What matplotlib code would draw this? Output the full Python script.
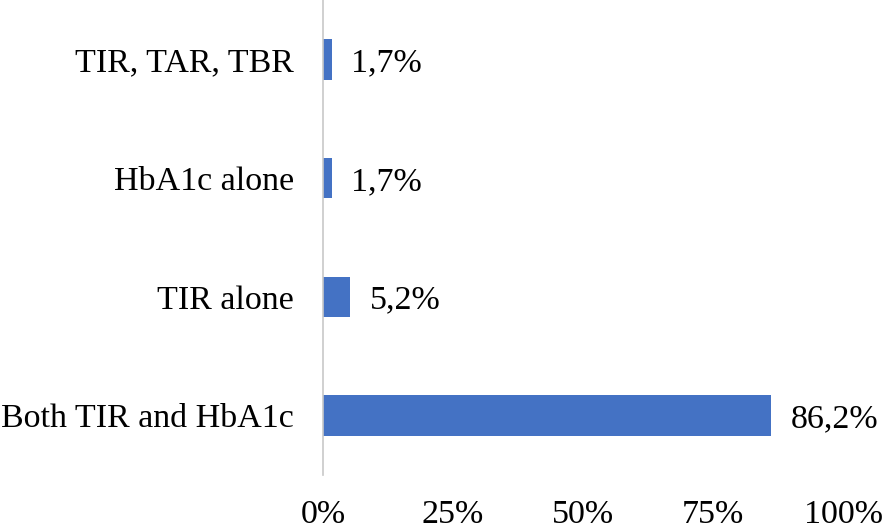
import matplotlib
matplotlib.use('Agg')
import matplotlib.pyplot as plt
from matplotlib.ticker import FuncFormatter

plt.rcParams['font.family'] = ['Liberation Serif', 'DejaVu Serif']

# data (bottom to top)
categories = ['Both TIR and HbA1c', 'TIR alone', 'HbA1c alone', 'TIR, TAR, TBR']
values = [86.2, 5.2, 1.7, 1.7]
value_labels = ['86,2%', '5,2%', '1,7%', '1,7%']
x_ticks = [0, 25, 50, 75, 100]

fs = 24.5

fig = plt.figure(figsize=(8.86, 5.31), dpi=100)
ax = fig.add_axes([0.3646, 0.1055, 0.9515 - 0.3646, 1.0 - 0.1055])

ax.barh(range(len(categories)), values, height=0.34, color='#4472C4')
for i, (v, lab) in enumerate(zip(values, value_labels)):
    ax.annotate(lab, (v, i), xytext=(14, 0), textcoords='offset points',
                va='center_baseline', ha='left', fontsize=fs)

ax.set_xlim(0, 100)
ax.set_ylim(-0.5, len(categories) - 0.5)
ax.set_xticks(x_ticks)
ax.xaxis.set_major_formatter(FuncFormatter(lambda x, p: f'{x:.0f}%'))
ax.set_yticks(range(len(categories)))
ax.set_yticklabels(categories, va='center_baseline')
ax.tick_params(axis='both', length=0, labelsize=fs)
ax.tick_params(axis='y', pad=21)
ax.tick_params(axis='x', pad=18)

for s in ['top', 'right', 'bottom']:
    ax.spines[s].set_visible(False)
ax.spines['left'].set_color('#c8c8c8')
ax.spines['left'].set_linewidth(1.2)

fig.savefig('out.png', dpi=100)
